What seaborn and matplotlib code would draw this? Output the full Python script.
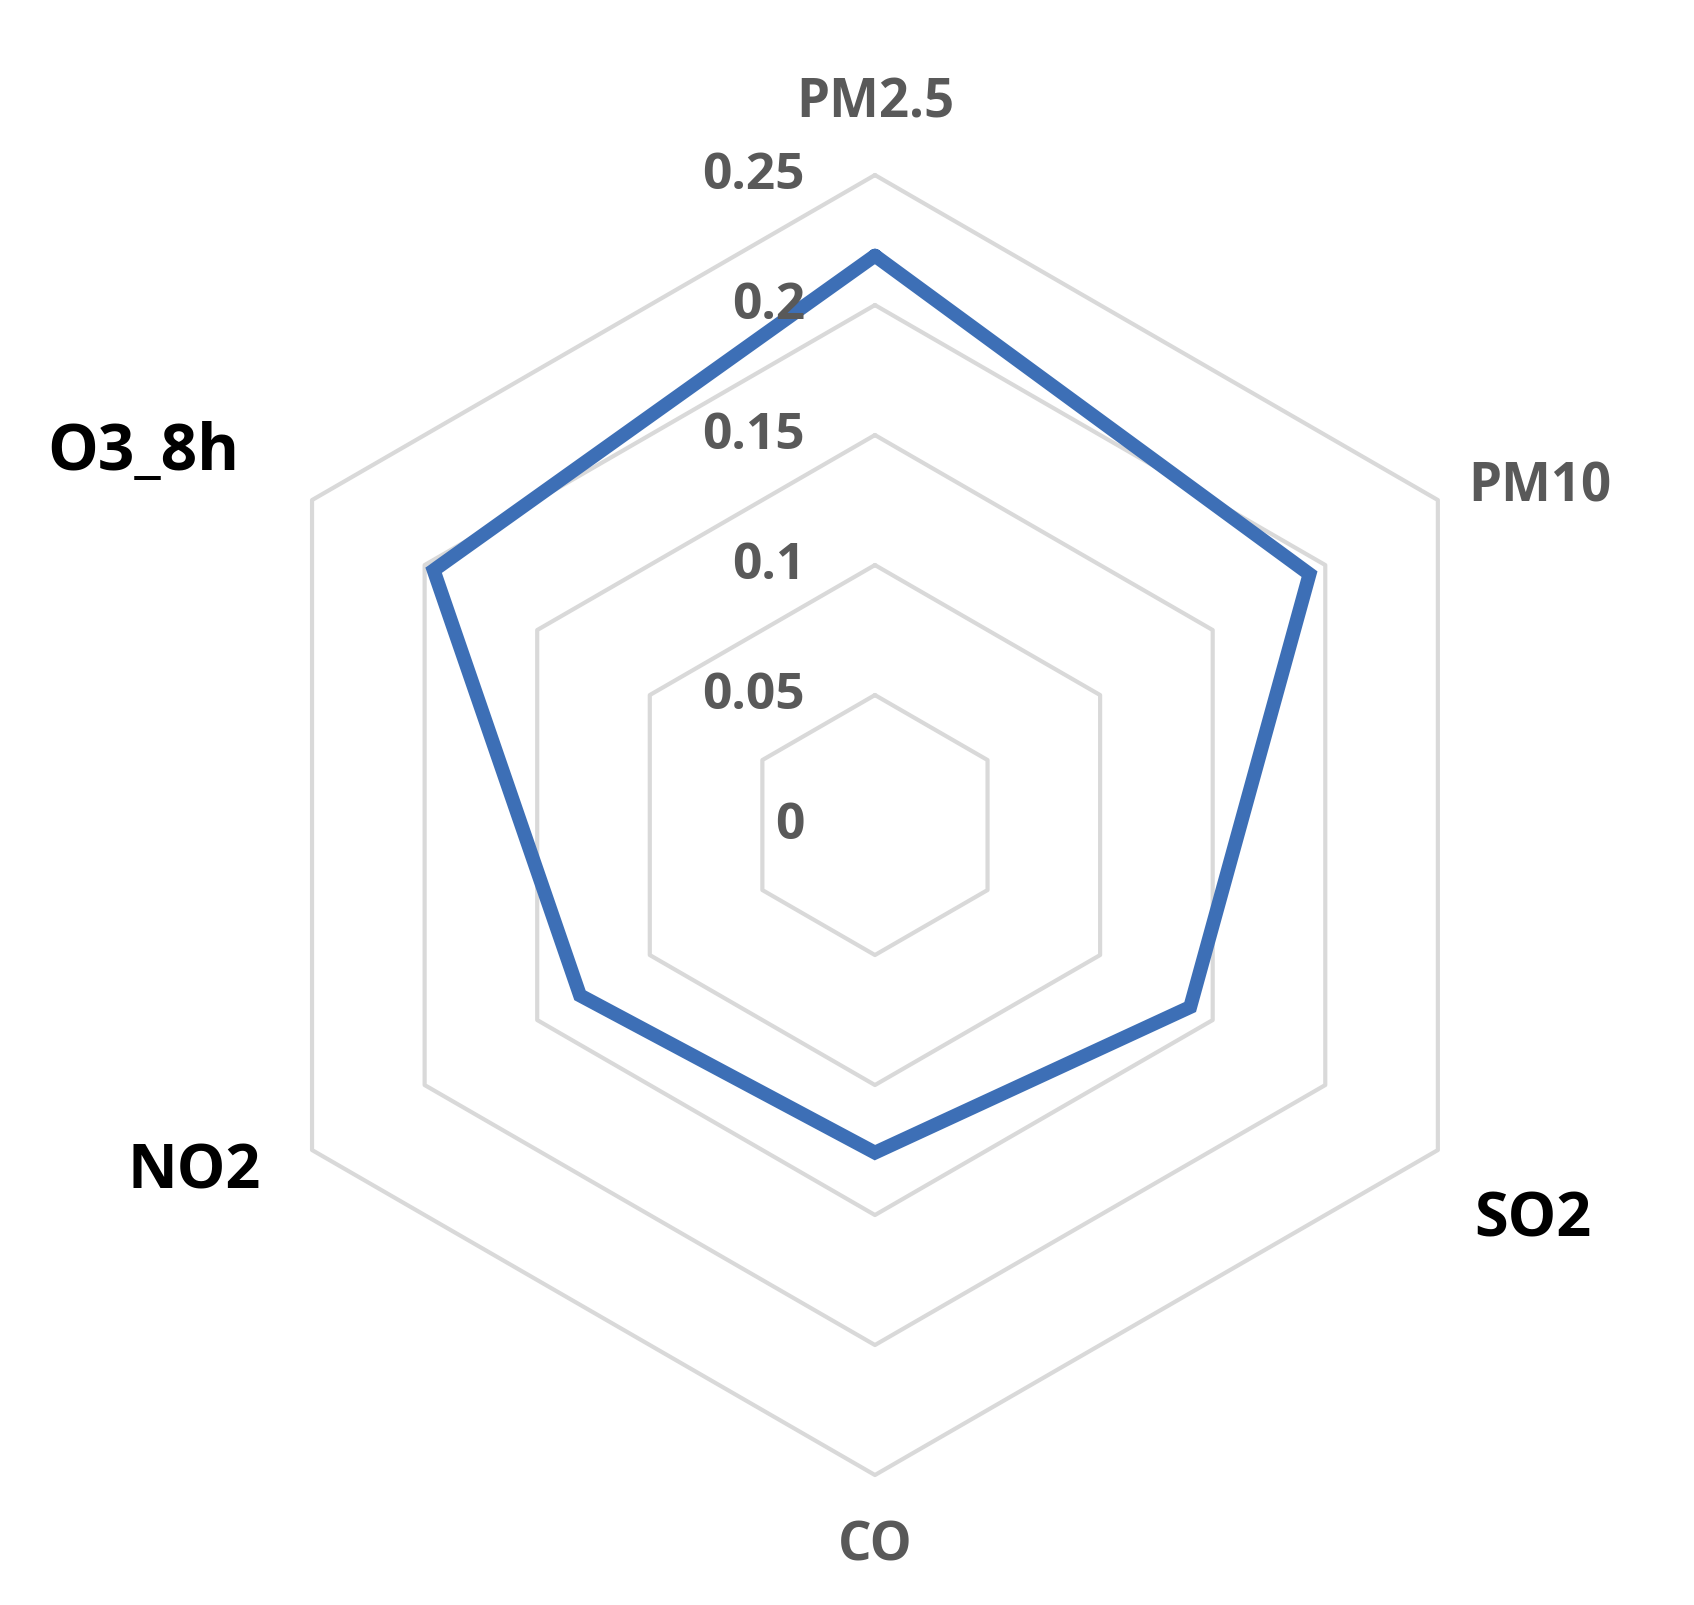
import numpy as np
import pandas as pd
import matplotlib
matplotlib.use("Agg")
import matplotlib.pyplot as plt
import matplotlib.transforms as mtransforms
import seaborn as sns

# Data
pollutants = ["PM2.5", "PM10", "SO2", "CO", "NO2", "O3_8h"]
scores = [0.219, 0.193, 0.140, 0.126, 0.131, 0.196]
ring_levels = [0.05, 0.10, 0.15, 0.20, 0.25]
ring_labels = ["0", "0.05", "0.1", "0.15", "0.2", "0.25"]

sns.set_style("white")
plt.rcParams["font.family"] = ["Open Sans", "DejaVu Sans"]

BLUE = "#3d6fb6"
GRID = "#d9d9d9"
GREY_TXT = "#595959"

fig = plt.figure(figsize=(16.94, 16.06), dpi=100)
ax = fig.add_axes([0.1328, 0.0809, 0.7674, 0.8095], projection="polar")
ax.set_theta_zero_location("N")
ax.set_theta_direction(-1)

n = len(pollutants)
theta = np.linspace(0, 2 * np.pi, n, endpoint=False)
theta_closed = np.append(theta, 2 * np.pi)

# hexagonal grid rings
for lvl in ring_levels:
    ax.plot(theta_closed, [lvl] * (n + 1), color=GRID, lw=3.0, zorder=1, clip_on=False)

# data polygon
df = pd.DataFrame({"theta": theta_closed, "value": scores + scores[:1]})
sns.lineplot(data=df, x="theta", y="value", sort=False, estimator=None, ax=ax,
             color=BLUE, linewidth=10, zorder=3)
for line in ax.lines[-1:]:
    line.set_solid_joinstyle("miter")
    line.set_clip_on(False)

ax.set_ylim(0, 0.25)
ax.grid(False)
ax.spines["polar"].set_visible(False)
ax.set_xticks([])
ax.set_yticks([])
ax.set_xlabel("")
ax.set_ylabel("")

# radial tick labels, right aligned left of the vertical axis
off = mtransforms.offset_copy(ax.transData, fig=fig, x=-70, y=0, units="dots")
for lvl, lab in zip([0.0] + ring_levels, ring_labels):
    ax.text(0, lvl, lab, transform=off, ha="right", va="center",
            fontsize=37, color=GREY_TXT, fontweight="bold", zorder=4)

# category labels (angle in degrees, radius)
label_pos = [(0, 0.278), (63, 0.287), (121, 0.295), (180, 0.277), (243, 0.294), (297, 0.316)]
label_style = [
    dict(color=GREY_TXT, fontsize=38, fontweight="bold"),
    dict(color=GREY_TXT, fontsize=38, fontweight="bold"),
    dict(color="black", fontsize=44, fontweight="bold"),
    dict(color=GREY_TXT, fontsize=38, fontweight="bold"),
    dict(color="black", fontsize=44, fontweight="bold"),
    dict(color="black", fontsize=46, fontweight="bold"),
]
for name, (ang, rad), st in zip(pollutants, label_pos, label_style):
    ax.text(np.deg2rad(ang), rad, name, ha="center", va="center", clip_on=False, **st)

fig.savefig("out.png", dpi=100, facecolor="white")
